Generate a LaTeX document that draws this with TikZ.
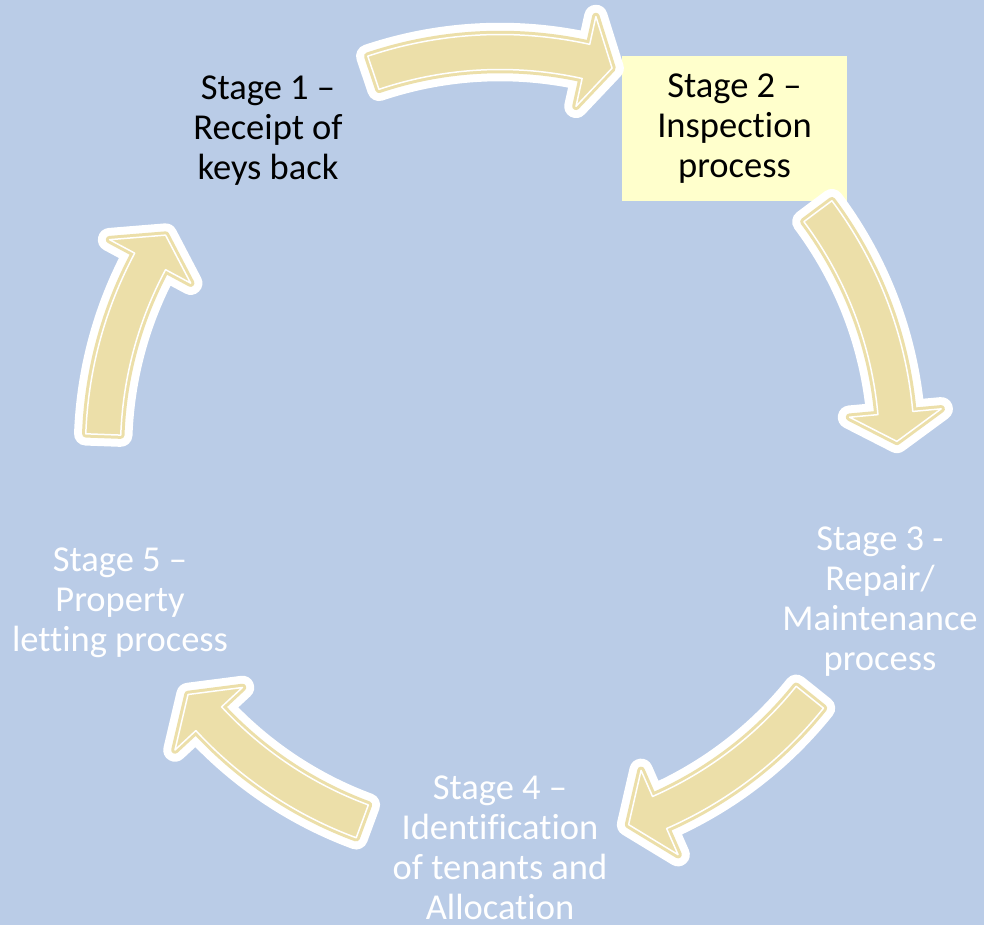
\documentclass[tikz,border=0pt]{standalone}
\usepackage{fontspec}
\setmainfont{Carlito}[RawFeature={-liga;-clig;-dlig;-calt;-rlig;-hlig}]
\usepackage{xcolor}
\usepackage{tikz}

\definecolor{bgblue}{RGB}{186,204,231}
\definecolor{bgband}{RGB}{178,197,226}
\definecolor{arrowtan}{RGB}{236,223,169}
\definecolor{notepale}{RGB}{255,255,204}

% one curved arrow of the cycle: angle, tail, head base, tip
\newcommand{\cyclearrow}[4]{%
  (#1-#2:414.5) arc[start angle=#1-#2, end angle=#1+#3, radius=414.5]
  -- (#1+#3:443) -- (#1+#4:397) -- (#1+#3:351) -- (#1+#3:379.5)
  arc[start angle=#1+#3, end angle=#1-#2, radius=379.5] -- cycle}

\begin{document}
\begin{tikzpicture}[x=1pt, y=-1pt, font=\fontsize{36.5}{40}\selectfont,
    stage/.style={align=center, inner sep=0pt}]
% Background
\shade[top color=bgblue, middle color=bgband, bottom color=bgblue] (0,0) rectangle (984,925);
\useasboundingbox (0,0) rectangle (984,925);

% Stages
\node[stage] (recv) at (268,131) {Stage 1 –\\Receipt of\\keys back};
\node[stage, fill=notepale, minimum width=225, minimum height=145] (insp) at (734.5,129) {Stage 2 –\\Inspection\\process};
\node[stage, text=white] (repair) at (880,602) {Stage 3 -\\Repair/\\Maintenance\\process};
\node[stage, text=white] (alloc) at (500,848) {Stage 4 –\\Identification\\of tenants and\\Allocation};
\node[stage, text=white] (letting) at (120,603) {Stage 5 –\\Property\\letting process};

% Cycle arrows
\foreach \a/\t/\b/\p in {-90/18.6/12.5/16.4, -18/18.8/12.8/16.9, 54/15.3/12.3/17.1,
                         126/15.7/11.2/15.8, 198/15.9/10.2/14.6} {
    \draw[white, line width=23.5, line join=round, shift={(500,449)}] \cyclearrow{\a}{\t}{\b}{\p};
    \draw[arrowtan, fill=arrowtan, line width=7.5, line join=round, shift={(500,449)}] \cyclearrow{\a}{\t}{\b}{\p};
    \draw[white, line width=1.5, line join=round, shift={(500,449)}] \cyclearrow{\a}{\t}{\b}{\p};
}
\end{tikzpicture}
\end{document}
